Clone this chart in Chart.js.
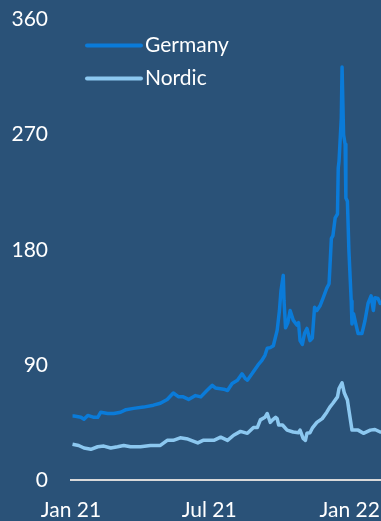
<!DOCTYPE html>
<html>
<head>
<meta charset="utf-8">
<script src="https://cdn.jsdelivr.net/npm/chart.js@4/dist/chart.umd.min.js"></script>
<style>
  html, body { margin: 0; padding: 0; background: #2a5278; overflow: hidden; }
  #wrap { width: 381px; height: 529px; position: relative; margin-top: -8px; }
</style>
</head>
<body>
<div id="wrap"><canvas id="chart"></canvas></div>
<script>
// days counted from 1 Jan 2021
const germanyDays = [2, 4, 13, 17, 22, 30, 35, 39, 48, 56, 65, 72, 82, 95, 108, 117, 126, 134, 141, 147, 154,
  163, 170, 178, 185, 189, 200, 205, 211, 218, 224, 228, 231, 237, 245, 250, 254, 257, 261, 265, 270, 273,
  275, 278, 279, 281, 284, 287, 291, 296, 298, 300, 303, 306, 309, 313, 316, 319, 322, 326, 330, 335, 338,
  341, 343, 346, 349, 350, 351, 354, 355, 357, 359, 360, 362, 364, 367, 368, 370, 373, 376, 381, 385, 389,
  393, 396, 398, 402, 405, 410];
const germanyValues = [50, 50, 49, 47.5, 50.5, 49, 49, 53, 52, 52, 53, 55, 56, 57, 58.5, 60, 63, 68, 65, 65, 63,
  66, 65, 70, 74, 72, 71, 70, 75.5, 78, 83, 79.5, 78, 83, 90, 93.5, 97.5, 103, 103.5, 105, 117, 132.5,
  148, 160, 140, 119, 123, 132.5, 125, 121, 123, 109, 106, 115, 118.5, 109, 111, 135, 132.5, 136, 142, 150, 153.5,
  189, 191, 205, 208, 244, 249, 283, 323, 270, 262.5, 220.5, 218, 179, 140, 122, 130, 122, 114.5, 114.5, 124.5, 138,
  144, 132.5, 142.5, 142, 138, 140];

const nordicDays = [2, 10, 17, 26, 35, 43, 52, 61, 69, 78, 91, 104, 117, 126, 134, 143, 153, 166, 173, 187,
  196, 205, 213, 222, 231, 239, 244, 248, 254, 257, 261, 264, 268, 270, 272, 277, 283, 291, 298, 300, 304,
  307, 309, 313, 316, 322, 329, 335, 339, 343, 349, 351, 355, 358, 362, 364, 368, 372, 376, 383, 392, 398,
  405, 410];
const nordicValues = [28, 27, 25, 24, 26, 26.5, 25, 26, 27, 26, 26, 27, 27, 31, 31, 33, 32, 29, 31, 31,
  33.5, 31, 35, 38, 36.5, 41, 41, 47, 49, 52, 45, 47, 49, 48, 43, 43, 39, 37.5, 37, 39, 32.5,
  31, 36.5, 37, 40.5, 45, 48, 53, 57, 60, 65, 71.5, 76, 68, 62.5, 54.5, 39, 39, 39, 36.5, 39, 39.5,
  37.5, 38];

const seriesNames = ['Germany', 'Nordic'];
const seriesColors = ['#0a7bd9', '#8cc8f0'];

const xTickDays = [0, 181, 365];
const xTickLabels = ['Jan 21', 'Jul 21', 'Jan 22'];
const yTicks = [0, 90, 180, 270, 360];

const toPoints = (days, values) => days.map((d, i) => ({ x: d, y: values[i] }));

const FONT = { family: 'Lato', size: 21 };

// legend drawn inside the plot, top left
const insideLegend = {
  id: 'insideLegend',
  afterDraw(chart) {
    const ctx = chart.ctx;
    const left = chart.chartArea.left + 16;
    const top = chart.chartArea.top + 26;
    ctx.save();
    ctx.font = FONT.size + 'px ' + FONT.family;
    ctx.textBaseline = 'middle';
    chart.data.datasets.forEach((ds, i) => {
      const y = top + i * 33;
      ctx.strokeStyle = ds.borderColor;
      ctx.lineWidth = 4;
      ctx.lineCap = 'round';
      ctx.beginPath();
      ctx.moveTo(left, y);
      ctx.lineTo(left + 54, y);
      ctx.stroke();
      ctx.fillStyle = '#ffffff';
      ctx.fillText(ds.label, left + 58, y);
    });
    ctx.restore();
  }
};

new Chart(document.getElementById('chart'), {
  type: 'line',
  data: {
    datasets: [
      { label: seriesNames[0], data: toPoints(germanyDays, germanyValues), borderColor: seriesColors[0] },
      { label: seriesNames[1], data: toPoints(nordicDays, nordicValues), borderColor: seriesColors[1] }
    ]
  },
  options: {
    responsive: true,
    maintainAspectRatio: false,
    animation: false,
    layout: { padding: { top: 0, right: 0, left: 0, bottom: 0 } },
    elements: {
      line: { borderWidth: 3.5, tension: 0, borderJoinStyle: 'round' },
      point: { radius: 0 }
    },
    plugins: {
      legend: { display: false },
      tooltip: { enabled: false }
    },
    scales: {
      x: {
        type: 'linear',
        min: 0,
        max: 406,
        grid: { display: false },
        border: { display: true, color: '#d9d9d9', width: 2 },
        afterBuildTicks: (scale) => { scale.ticks = xTickDays.map(v => ({ value: v })); },
        afterFit: (scale) => {
          scale.height = 41;
          // plot runs to the right edge, the line is cut there
          scale.paddingLeft = 0;
          scale.paddingRight = 0;
        },
        ticks: {
          color: '#ffffff',
          font: FONT,
          padding: 10,
          maxRotation: 0,
          autoSkip: false,
          callback: (v) => xTickLabels[xTickDays.indexOf(v)]
        }
      },
      y: {
        min: 0,
        max: 360,
        grid: { display: false },
        border: { display: false },
        afterBuildTicks: (scale) => { scale.ticks = yTicks.map(v => ({ value: v })); },
        afterFit: (scale) => { scale.width = 71; },
        ticks: {
          color: '#ffffff',
          font: FONT,
          padding: 15
        }
      }
    }
  },
  plugins: [insideLegend]
});
</script>
</body>
</html>
